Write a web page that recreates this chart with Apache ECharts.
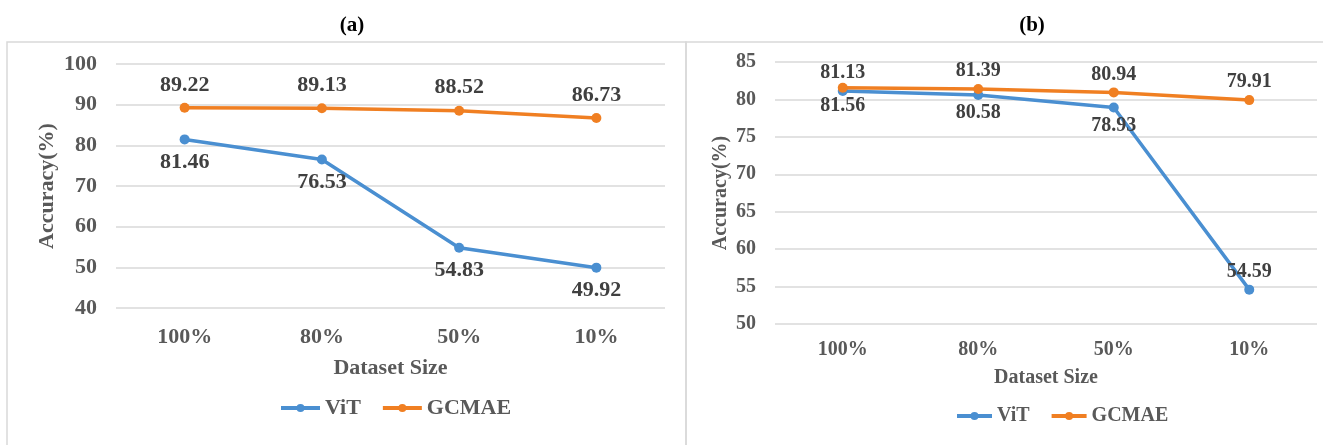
<!DOCTYPE html>
<html>
<head>
<meta charset="utf-8">
<script src="https://cdn.jsdelivr.net/npm/echarts@6/dist/echarts.min.js"></script>
<style>
  html, body { margin: 0; padding: 0; background: #fff; }
  #chart { width: 1323px; height: 445px; }
</style>
</head>
<body>
<div id="chart"></div>
<script>
// Dataset sizes along the x axis
const categories = ['100%', '80%', '50%', '10%'];

// Panel (a)
const vitA = [81.46, 76.53, 54.83, 49.92];
const gcmaeA = [89.22, 89.13, 88.52, 86.73];
const yTicksA = { min: 40, max: 100, interval: 10 };

// Panel (b)
const vitB = [81.13, 80.58, 78.93, 54.59];
const gcmaeB = [81.56, 81.39, 80.94, 79.91];
const yTicksB = { min: 50, max: 85, interval: 5 };

// Label placement per point in panel (b)
const vitBLabelPos = ['top', 'bottom', 'bottom', 'top'];
const gcmaeBLabelPos = ['bottom', 'top', 'top', 'top'];

const FONT = '"Liberation Serif", "Times New Roman", serif';
const BLUE = '#4A8FD1';
const ORANGE = '#F07F22';
const GRID = '#D9D9D9';
const AXIS_TEXT = '#595959';
const LABEL_TEXT = '#404040';

function withLabelPos(values, positions) {
  return values.map((v, i) => ({ value: v, label: { position: positions[i] } }));
}

function lineSeries(name, data, xi, color, pos, fontSize, distance) {
  return {
    name: name,
    type: 'line',
    xAxisIndex: xi,
    yAxisIndex: xi,
    data: data,
    symbol: 'circle',
    symbolSize: 10,
    lineStyle: { width: 3.5, color: color },
    itemStyle: { color: color },
    label: {
      show: true,
      position: pos,
      distance: distance,
      fontFamily: FONT,
      fontWeight: 'bold',
      fontSize: fontSize,
      color: LABEL_TEXT
    },
    emphasis: { disabled: true },
    animation: false,
    z: name === 'GCMAE' ? 3 : 2
  };
}

function xAxis(gi, fontSize, margin, nameGap) {
  return {
    type: 'category',
    gridIndex: gi,
    data: categories,
    boundaryGap: true,
    axisLine: { show: false },
    axisTick: { show: false },
    axisLabel: { fontFamily: FONT, fontWeight: 'bold', fontSize: fontSize, color: AXIS_TEXT, margin: margin },
    name: 'Dataset Size',
    nameLocation: 'middle',
    nameGap: nameGap,
    nameTextStyle: { fontFamily: FONT, fontWeight: 'bold', fontSize: fontSize, color: AXIS_TEXT }
  };
}

function yAxis(gi, ticks, fontSize, nameGap) {
  return {
    type: 'value',
    gridIndex: gi,
    min: ticks.min,
    max: ticks.max,
    interval: ticks.interval,
    axisLine: { show: false },
    axisTick: { show: false },
    splitLine: { lineStyle: { color: GRID, width: 1.5 } },
    axisLabel: { fontFamily: FONT, fontWeight: 'bold', fontSize: fontSize, color: AXIS_TEXT, margin: 19 },
    name: 'Accuracy(%)',
    nameLocation: 'middle',
    nameGap: nameGap,
    nameTextStyle: { fontFamily: FONT, fontWeight: 'bold', fontSize: fontSize, color: AXIS_TEXT }
  };
}

function legend(left, top, fontSize, itemWidth) {
  return {
    data: ['ViT', 'GCMAE'],
    left: left,
    top: top,
    itemWidth: itemWidth,
    itemHeight: 10,
    itemGap: 20,
    lineStyle: { width: 4 },
    textStyle: { fontFamily: FONT, fontWeight: 'bold', fontSize: fontSize, color: AXIS_TEXT },
    selectedMode: false
  };
}

const chart = echarts.init(document.getElementById('chart'), null, { renderer: 'canvas' });

chart.setOption({
  backgroundColor: '#ffffff',
  animation: false,
  title: [
    { text: '(a)', left: 347, top: 10, textAlign: 'center',
      textStyle: { fontFamily: FONT, fontWeight: 'bold', fontSize: 21, color: '#000' } },
    { text: '(b)', left: 1027, top: 10, textAlign: 'center',
      textStyle: { fontFamily: FONT, fontWeight: 'bold', fontSize: 21, color: '#000' } }
  ],
  graphic: [
    { type: 'rect', shape: { x: 7, y: 42, width: 679, height: 500 },
      style: { fill: 'none', stroke: GRID, lineWidth: 1.5 }, silent: true, z: -1 },
    { type: 'rect', shape: { x: 686, y: 42, width: 700, height: 500 },
      style: { fill: 'none', stroke: GRID, lineWidth: 1.5 }, silent: true, z: -1 }
  ],
  legend: [legend(274, 392, 22, 39), legend(950, 401, 20, 35)],
  grid: [
    { left: 116, right: 658, top: 64, height: 244 },
    { left: 775, right: 6, top: 62, height: 262 }
  ],
  xAxis: [xAxis(0, 22, 18, 49), xAxis(1, 20, 16, 44)],
  yAxis: [yAxis(0, yTicksA, 22, 58), yAxis(1, yTicksB, 20, 44)],
  series: [
    lineSeries('ViT', vitA, 0, BLUE, 'bottom', 22, 7),
    lineSeries('GCMAE', gcmaeA, 0, ORANGE, 'top', 22, 7),
    lineSeries('ViT', withLabelPos(vitB, vitBLabelPos), 1, BLUE, 'bottom', 20, 3),
    lineSeries('GCMAE', withLabelPos(gcmaeB, gcmaeBLabelPos), 1, ORANGE, 'top', 20, 3)
  ]
});
</script>
</body>
</html>
